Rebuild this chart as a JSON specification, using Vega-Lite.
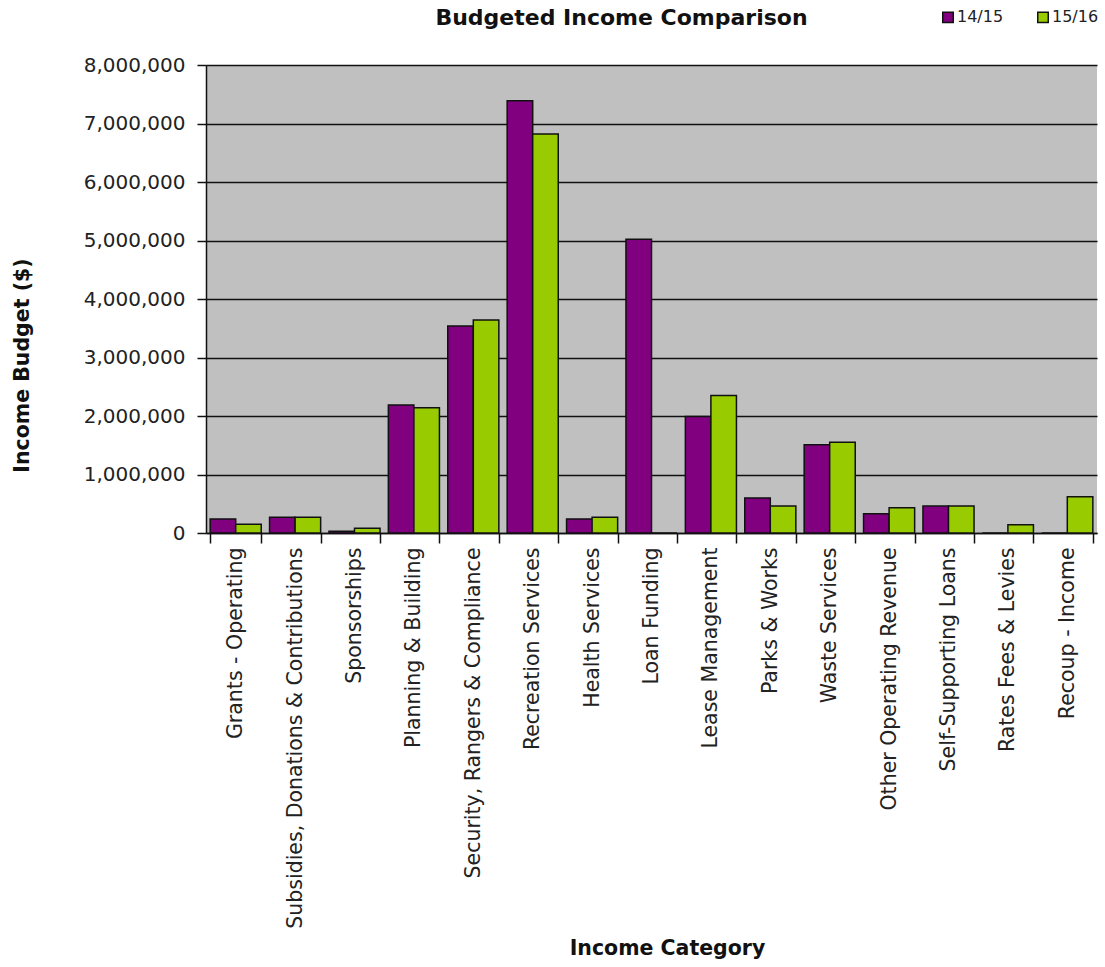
{
  "$schema": "https://vega.github.io/schema/vega-lite/v6.json",
  "autosize": {"type": "none"},
  "width": 891,
  "height": 468,
  "padding": {"left": 206, "top": 65, "right": 8, "bottom": 434},
  "background": "white",
  "title": {
    "text": "Budgeted Income Comparison",
    "font": "DejaVu Sans",
    "fontSize": 22,
    "fontWeight": "bold",
    "color": "#111111",
    "anchor": "middle",
    "frame": "group",
    "dx": -30,
    "offset": -21
  },
  "config": {
    "view": {"fill": "#C0C0C0", "stroke": null},
    "axis": {"labelFont": "DejaVu Sans", "titleFont": "DejaVu Sans", "labelColor": "#222222", "titleColor": "#111111"}
  },
  "data": {
    "values": [
      {"Category": "Grants - Operating", "Year": "14/15", "Value": 240000},
      {"Category": "Grants - Operating", "Year": "15/16", "Value": 150000},
      {"Category": "Subsidies, Donations & Contributions", "Year": "14/15", "Value": 270000},
      {"Category": "Subsidies, Donations & Contributions", "Year": "15/16", "Value": 268000},
      {"Category": "Sponsorships", "Year": "14/15", "Value": 30000},
      {"Category": "Sponsorships", "Year": "15/16", "Value": 82000},
      {"Category": "Planning & Building", "Year": "14/15", "Value": 2190000},
      {"Category": "Planning & Building", "Year": "15/16", "Value": 2140000},
      {"Category": "Security, Rangers & Compliance", "Year": "14/15", "Value": 3540000},
      {"Category": "Security, Rangers & Compliance", "Year": "15/16", "Value": 3640000},
      {"Category": "Recreation Services", "Year": "14/15", "Value": 7390000},
      {"Category": "Recreation Services", "Year": "15/16", "Value": 6820000},
      {"Category": "Health Services", "Year": "14/15", "Value": 240000},
      {"Category": "Health Services", "Year": "15/16", "Value": 270000},
      {"Category": "Loan Funding", "Year": "14/15", "Value": 5020000},
      {"Category": "Loan Funding", "Year": "15/16", "Value": 0},
      {"Category": "Lease Management", "Year": "14/15", "Value": 1990000},
      {"Category": "Lease Management", "Year": "15/16", "Value": 2350000},
      {"Category": "Parks & Works", "Year": "14/15", "Value": 600000},
      {"Category": "Parks & Works", "Year": "15/16", "Value": 460000},
      {"Category": "Waste Services", "Year": "14/15", "Value": 1510000},
      {"Category": "Waste Services", "Year": "15/16", "Value": 1550000},
      {"Category": "Other Operating Revenue", "Year": "14/15", "Value": 330000},
      {"Category": "Other Operating Revenue", "Year": "15/16", "Value": 430000},
      {"Category": "Self-Supporting Loans", "Year": "14/15", "Value": 460000},
      {"Category": "Self-Supporting Loans", "Year": "15/16", "Value": 460000},
      {"Category": "Rates Fees & Levies", "Year": "14/15", "Value": 0},
      {"Category": "Rates Fees & Levies", "Year": "15/16", "Value": 140000},
      {"Category": "Recoup - Income", "Year": "14/15", "Value": 0},
      {"Category": "Recoup - Income", "Year": "15/16", "Value": 620000}
    ]
  },
  "mark": {"type": "bar", "stroke": "#111111", "strokeWidth": 1.5},
  "encoding": {
    "x": {
      "field": "Category",
      "type": "nominal",
      "sort": null,
      "scale": {"paddingInner": 0.14, "paddingOuter": 0.07},
      "axis": {
        "title": "Income Category",
        "titleFontSize": 20.5,
        "titleFontWeight": "bold",
        "titleX": 461,
        "titleY": 415,
        "titleBaseline": "middle",
        "titleAlign": "center",
        "labelAngle": -90,
        "labelAlign": "right",
        "labelBaseline": "middle",
        "labelFontSize": 20.5,
        "labelPadding": 4,
        "labelLimit": 500,
        "tickBand": "extent",
        "tickColor": "#111111",
        "tickSize": 10,
        "tickWidth": 1.5,
        "domainColor": "#111111",
        "domainWidth": 1.5,
        "grid": false
      }
    },
    "xOffset": {"field": "Year", "type": "nominal", "scale": {"paddingInner": 0, "paddingOuter": 0}},
    "y": {
      "field": "Value",
      "type": "quantitative",
      "scale": {"domain": [0, 8000000], "nice": false},
      "axis": {
        "title": "Income Budget ($)",
        "titleFontSize": 20.5,
        "titleFontWeight": "bold",
        "titleX": -184,
        "titleY": 300,
        "titleAngle": -90,
        "titleAlign": "center",
        "titleBaseline": "middle",
        "format": ",d",
        "values": [0, 1000000, 2000000, 3000000, 4000000, 5000000, 6000000, 7000000, 8000000],
        "labelFontSize": 20,
        "labelPadding": 12,
        "tickSize": 9,
        "tickColor": "#111111",
        "tickWidth": 1.5,
        "domainColor": "#111111",
        "domainWidth": 1.5,
        "grid": true,
        "gridColor": "#111111",
        "gridWidth": 1.5
      }
    },
    "color": {
      "field": "Year",
      "type": "nominal",
      "scale": {"domain": ["14/15", "15/16"], "range": ["#800080", "#99CC00"]},
      "legend": {
        "title": null,
        "orient": "none",
        "legendX": 734,
        "legendY": -56,
        "direction": "horizontal",
        "symbolType": "square",
        "symbolSize": 110,
        "symbolStrokeColor": "#111111",
        "symbolStrokeWidth": 1.5,
        "labelFont": "DejaVu Sans",
        "labelFontSize": 16,
        "labelOffset": 1,
        "labelColor": "#222222",
        "columnPadding": 30
      }
    }
  }
}
